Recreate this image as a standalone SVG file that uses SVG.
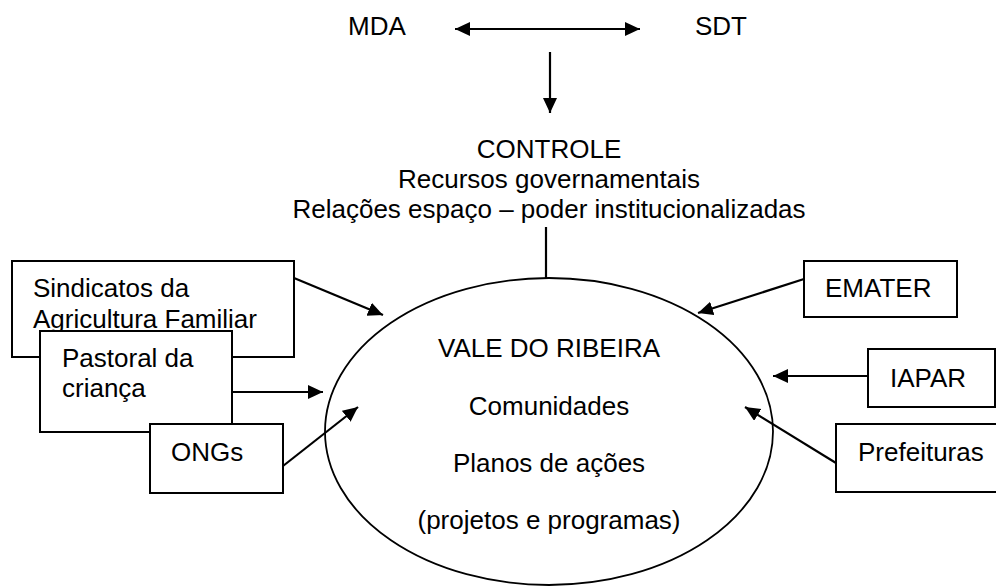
<svg xmlns="http://www.w3.org/2000/svg" width="996" height="586" viewBox="0 0 996 586">
<style>
text{font-family:"Liberation Sans",Arial,sans-serif;font-size:26px;fill:#000}
.c{text-anchor:middle}
.box{fill:#fff;stroke:#000;stroke-width:2}
.ln{stroke:#000;stroke-width:2.2;fill:none}
.ar{stroke:#000;stroke-width:2.2;fill:none;marker-end:url(#ah)}
</style>
<defs>
<marker id="ah" markerUnits="userSpaceOnUse" markerWidth="16" markerHeight="16" refX="15" refY="7" orient="auto-start-reverse">
<path d="M0,0 L15,7 L0,14 z" fill="#000"/>
</marker>
</defs>
<rect width="996" height="586" fill="#fff"/>
<g id="mda"><text x="348" y="35">MDA</text></g>
<g id="sdt"><text x="695" y="35">SDT</text></g>
<g id="controle">
<text class="c" x="549" y="158">CONTROLE</text>
<text class="c" x="549" y="188">Recursos governamentais</text>
<text class="c" x="549" y="218">Relações espaço – poder institucionalizadas</text>
</g>
<g id="vale">
<ellipse cx="549" cy="431.5" rx="224" ry="153.5" fill="none" stroke="#000" stroke-width="1.8"/>
<text class="c" x="549" y="357">VALE DO RIBEIRA</text>
<text class="c" x="549" y="415">Comunidades</text>
<text class="c" x="549" y="472">Planos de ações</text>
<text class="c" x="549" y="529">(projetos e programas)</text>
</g>
<g id="sindicatos">
<rect class="box" x="12" y="261" width="282" height="96"/>
<text x="33" y="297">Sindicatos da</text>
<text x="33" y="328">Agricultura Familiar</text>
</g>
<g id="pastoral">
<rect class="box" x="40" y="331" width="192" height="101"/>
<text x="62" y="367">Pastoral da</text>
<text x="62" y="397">criança</text>
</g>
<g id="ongs">
<rect class="box" x="150" y="424" width="133" height="69"/>
<text x="171" y="461">ONGs</text>
</g>
<g id="emater">
<rect class="box" x="804" y="261" width="153" height="56"/>
<text x="825" y="297">EMATER</text>
</g>
<g id="iapar">
<rect class="box" x="868" y="349" width="127" height="58"/>
<text x="890" y="387">IAPAR</text>
</g>
<g id="prefeituras">
<rect class="box" x="836" y="424" width="170" height="68"/>
<text x="858" y="461">Prefeituras</text>
</g>
<g id="connectors">
<line class="ar" x1="455" y1="29" x2="640" y2="29" style="marker-start:url(#ah)"/>
<line class="ar" x1="550" y1="52" x2="550" y2="113"/>
<line class="ln" x1="546" y1="227" x2="546" y2="278"/>
<line class="ar" x1="294" y1="278" x2="383" y2="315"/>
<line class="ar" x1="232" y1="392" x2="323" y2="392"/>
<line class="ar" x1="283" y1="466" x2="358" y2="407"/>
<line class="ar" x1="804" y1="279" x2="698" y2="313"/>
<line class="ar" x1="868" y1="376" x2="773" y2="376"/>
<line class="ar" x1="836" y1="463" x2="745" y2="407"/>
</g>
</svg>
